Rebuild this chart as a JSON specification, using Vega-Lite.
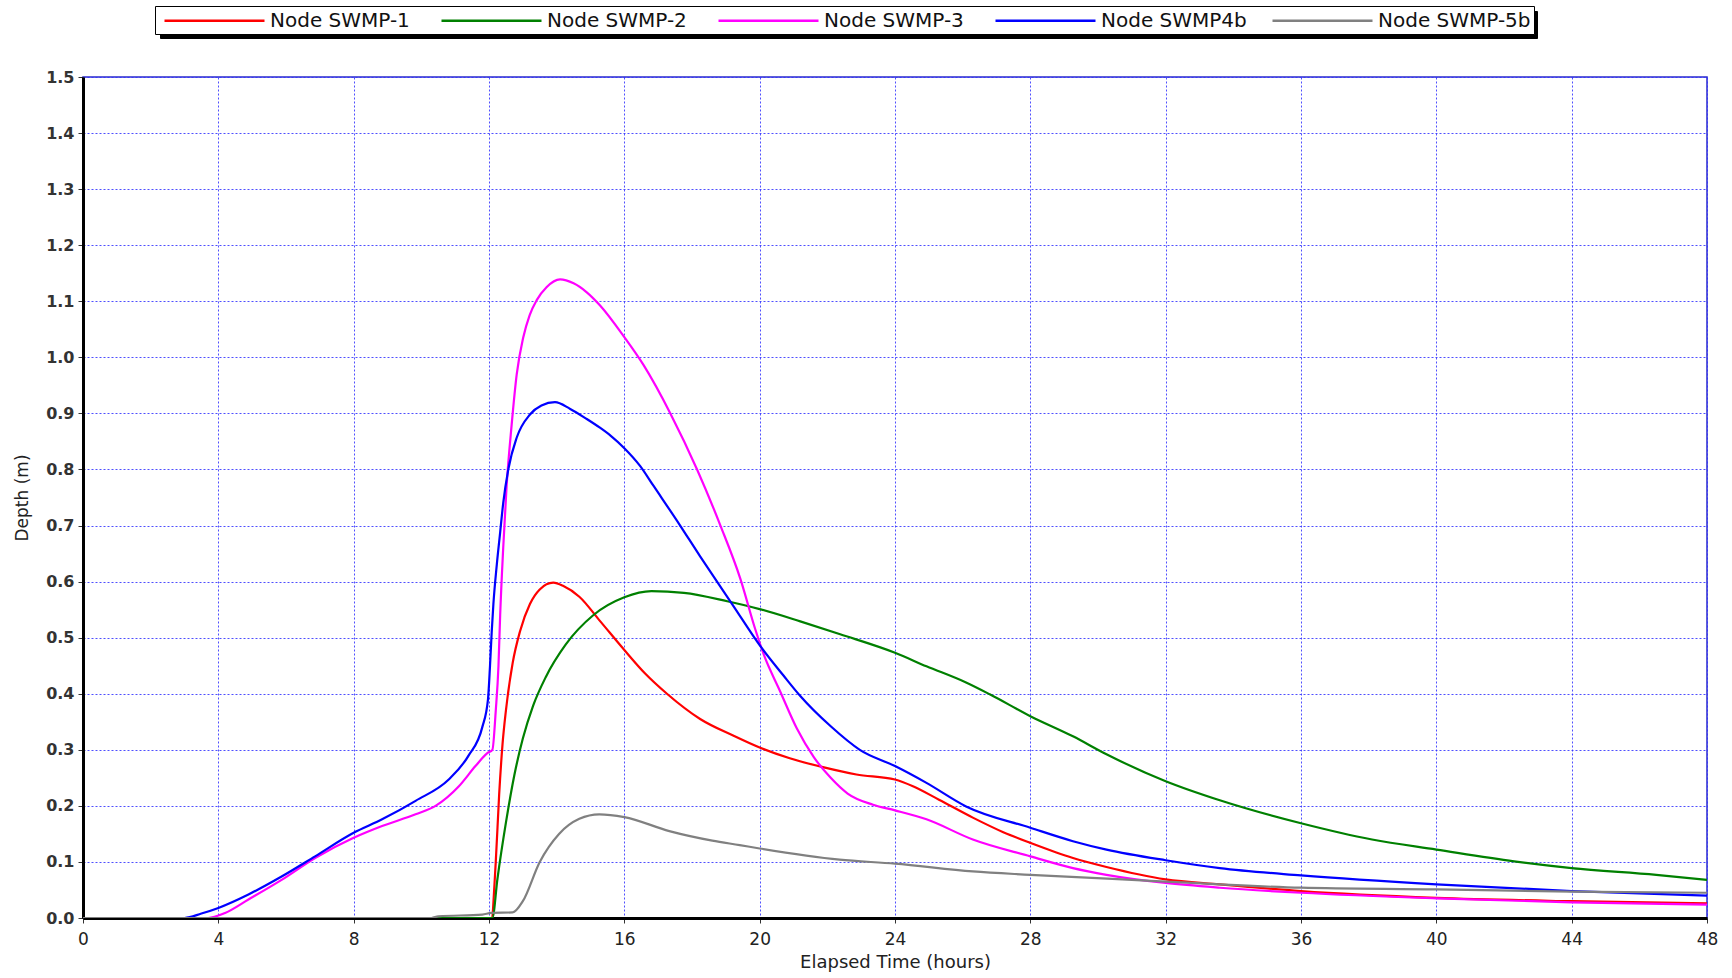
{
"$schema":"https://vega.github.io/schema/vega-lite/v6.json",
"width":1624,"height":841,
"autosize":{"type":"none"},
"padding":{"left":83,"top":77,"right":25,"bottom":60},
"background":"white",
"config":{"font":"DejaVu Sans","view":{"stroke":"#2a2acc","strokeWidth":1.5}},
"data":{"values":[
{"s":"Node SWMP-1","t":0,"d":0},{"s":"Node SWMP-1","t":12.07,"d":0},{"s":"Node SWMP-1","t":12.2,"d":0.1},{"s":"Node SWMP-1","t":12.3,"d":0.22},{"s":"Node SWMP-1","t":12.4,"d":0.31},{"s":"Node SWMP-1","t":12.5,"d":0.37},{"s":"Node SWMP-1","t":12.7,"d":0.455},{"s":"Node SWMP-1","t":12.92,"d":0.512},{"s":"Node SWMP-1","t":13.21,"d":0.56},{"s":"Node SWMP-1","t":13.5,"d":0.586},{"s":"Node SWMP-1","t":13.9,"d":0.598},{"s":"Node SWMP-1","t":14.2,"d":0.592},{"s":"Node SWMP-1","t":14.67,"d":0.573},{"s":"Node SWMP-1","t":15.29,"d":0.529},{"s":"Node SWMP-1","t":16,"d":0.478},{"s":"Node SWMP-1","t":16.6,"d":0.437},{"s":"Node SWMP-1","t":17.26,"d":0.4},{"s":"Node SWMP-1","t":18.24,"d":0.355},{"s":"Node SWMP-1","t":19.23,"d":0.325},{"s":"Node SWMP-1","t":20,"d":0.304},{"s":"Node SWMP-1","t":20.89,"d":0.285},{"s":"Node SWMP-1","t":21.87,"d":0.269},{"s":"Node SWMP-1","t":22.86,"d":0.256},{"s":"Node SWMP-1","t":24,"d":0.247},{"s":"Node SWMP-1","t":24.53,"d":0.235},{"s":"Node SWMP-1","t":25.3,"d":0.211},{"s":"Node SWMP-1","t":26.3,"d":0.179},{"s":"Node SWMP-1","t":27.2,"d":0.153},{"s":"Node SWMP-1","t":28,"d":0.134},{"s":"Node SWMP-1","t":29.26,"d":0.107},{"s":"Node SWMP-1","t":30.25,"d":0.091},{"s":"Node SWMP-1","t":32,"d":0.069},{"s":"Node SWMP-1","t":33.6,"d":0.06},{"s":"Node SWMP-1","t":36,"d":0.048},{"s":"Node SWMP-1","t":40,"d":0.036},{"s":"Node SWMP-1","t":44,"d":0.03},{"s":"Node SWMP-1","t":48,"d":0.026},
{"s":"Node SWMP-2","t":0,"d":0},{"s":"Node SWMP-2","t":12.1,"d":0},{"s":"Node SWMP-2","t":12.25,"d":0.07},{"s":"Node SWMP-2","t":12.5,"d":0.17},{"s":"Node SWMP-2","t":12.75,"d":0.255},{"s":"Node SWMP-2","t":13,"d":0.32},{"s":"Node SWMP-2","t":13.3,"d":0.378},{"s":"Node SWMP-2","t":13.68,"d":0.43},{"s":"Node SWMP-2","t":14.27,"d":0.488},{"s":"Node SWMP-2","t":15.08,"d":0.54},{"s":"Node SWMP-2","t":16,"d":0.572},{"s":"Node SWMP-2","t":16.8,"d":0.583},{"s":"Node SWMP-2","t":17.76,"d":0.58},{"s":"Node SWMP-2","t":19.04,"d":0.565},{"s":"Node SWMP-2","t":20,"d":0.551},{"s":"Node SWMP-2","t":21.2,"d":0.529},{"s":"Node SWMP-2","t":22.38,"d":0.506},{"s":"Node SWMP-2","t":24,"d":0.473},{"s":"Node SWMP-2","t":24.93,"d":0.449},{"s":"Node SWMP-2","t":26.1,"d":0.42},{"s":"Node SWMP-2","t":26.8,"d":0.399},{"s":"Node SWMP-2","t":28,"d":0.36},{"s":"Node SWMP-2","t":29.26,"d":0.324},{"s":"Node SWMP-2","t":30.25,"d":0.292},{"s":"Node SWMP-2","t":32,"d":0.244},{"s":"Node SWMP-2","t":33.6,"d":0.21},{"s":"Node SWMP-2","t":36,"d":0.169},{"s":"Node SWMP-2","t":38.1,"d":0.14},{"s":"Node SWMP-2","t":40,"d":0.122},{"s":"Node SWMP-2","t":42.3,"d":0.101},{"s":"Node SWMP-2","t":44,"d":0.089},{"s":"Node SWMP-2","t":46.5,"d":0.077},{"s":"Node SWMP-2","t":48,"d":0.068},
{"s":"Node SWMP-3","t":0,"d":0},{"s":"Node SWMP-3","t":3.7,"d":0},{"s":"Node SWMP-3","t":4.2,"d":0.009},{"s":"Node SWMP-3","t":4.89,"d":0.033},{"s":"Node SWMP-3","t":5.87,"d":0.068},{"s":"Node SWMP-3","t":6.86,"d":0.107},{"s":"Node SWMP-3","t":8,"d":0.143},{"s":"Node SWMP-3","t":8.84,"d":0.164},{"s":"Node SWMP-3","t":9.83,"d":0.185},{"s":"Node SWMP-3","t":10.42,"d":0.2},{"s":"Node SWMP-3","t":11.11,"d":0.235},{"s":"Node SWMP-3","t":11.6,"d":0.271},{"s":"Node SWMP-3","t":11.95,"d":0.294},{"s":"Node SWMP-3","t":12.1,"d":0.3},{"s":"Node SWMP-3","t":12.2,"d":0.37},{"s":"Node SWMP-3","t":12.28,"d":0.45},{"s":"Node SWMP-3","t":12.33,"d":0.54},{"s":"Node SWMP-3","t":12.42,"d":0.66},{"s":"Node SWMP-3","t":12.52,"d":0.77},{"s":"Node SWMP-3","t":12.67,"d":0.88},{"s":"Node SWMP-3","t":12.82,"d":0.97},{"s":"Node SWMP-3","t":13.01,"d":1.035},{"s":"Node SWMP-3","t":13.2,"d":1.075},{"s":"Node SWMP-3","t":13.41,"d":1.102},{"s":"Node SWMP-3","t":13.7,"d":1.125},{"s":"Node SWMP-3","t":14.1,"d":1.139},{"s":"Node SWMP-3","t":14.5,"d":1.132},{"s":"Node SWMP-3","t":14.89,"d":1.116},{"s":"Node SWMP-3","t":15.29,"d":1.092},{"s":"Node SWMP-3","t":16,"d":1.036},{"s":"Node SWMP-3","t":16.57,"d":0.986},{"s":"Node SWMP-3","t":17.36,"d":0.9},{"s":"Node SWMP-3","t":18.15,"d":0.8},{"s":"Node SWMP-3","t":18.84,"d":0.7},{"s":"Node SWMP-3","t":19.43,"d":0.605},{"s":"Node SWMP-3","t":19.87,"d":0.515},{"s":"Node SWMP-3","t":20.12,"d":0.47},{"s":"Node SWMP-3","t":20.6,"d":0.405},{"s":"Node SWMP-3","t":21.1,"d":0.338},{"s":"Node SWMP-3","t":21.6,"d":0.287},{"s":"Node SWMP-3","t":22.1,"d":0.25},{"s":"Node SWMP-3","t":22.6,"d":0.222},{"s":"Node SWMP-3","t":23.35,"d":0.202},{"s":"Node SWMP-3","t":24,"d":0.192},{"s":"Node SWMP-3","t":24.93,"d":0.176},{"s":"Node SWMP-3","t":26.3,"d":0.14},{"s":"Node SWMP-3","t":28,"d":0.11},{"s":"Node SWMP-3","t":29.26,"d":0.089},{"s":"Node SWMP-3","t":30.25,"d":0.077},{"s":"Node SWMP-3","t":32,"d":0.0625},{"s":"Node SWMP-3","t":33.6,"d":0.054},{"s":"Node SWMP-3","t":36,"d":0.045},{"s":"Node SWMP-3","t":40,"d":0.035},{"s":"Node SWMP-3","t":44,"d":0.028},{"s":"Node SWMP-3","t":48,"d":0.024},
{"s":"Node SWMP4b","t":0,"d":0},{"s":"Node SWMP4b","t":3,"d":0},{"s":"Node SWMP4b","t":3.5,"d":0.008},{"s":"Node SWMP4b","t":4,"d":0.018},{"s":"Node SWMP4b","t":4.89,"d":0.042},{"s":"Node SWMP4b","t":5.87,"d":0.074},{"s":"Node SWMP4b","t":6.86,"d":0.11},{"s":"Node SWMP4b","t":8,"d":0.152},{"s":"Node SWMP4b","t":8.84,"d":0.176},{"s":"Node SWMP4b","t":9.83,"d":0.209},{"s":"Node SWMP4b","t":10.81,"d":0.247},{"s":"Node SWMP4b","t":11.4,"d":0.29},{"s":"Node SWMP4b","t":11.8,"d":0.34},{"s":"Node SWMP4b","t":11.97,"d":0.39},{"s":"Node SWMP4b","t":12.03,"d":0.45},{"s":"Node SWMP4b","t":12.08,"d":0.51},{"s":"Node SWMP4b","t":12.13,"d":0.56},{"s":"Node SWMP4b","t":12.23,"d":0.63},{"s":"Node SWMP4b","t":12.33,"d":0.688},{"s":"Node SWMP4b","t":12.42,"d":0.74},{"s":"Node SWMP4b","t":12.57,"d":0.8},{"s":"Node SWMP4b","t":12.82,"d":0.857},{"s":"Node SWMP4b","t":13.21,"d":0.898},{"s":"Node SWMP4b","t":13.55,"d":0.914},{"s":"Node SWMP4b","t":13.95,"d":0.92},{"s":"Node SWMP4b","t":14.4,"d":0.908},{"s":"Node SWMP4b","t":14.89,"d":0.89},{"s":"Node SWMP4b","t":15.29,"d":0.874},{"s":"Node SWMP4b","t":15.6,"d":0.86},{"s":"Node SWMP4b","t":16,"d":0.838},{"s":"Node SWMP4b","t":16.47,"d":0.806},{"s":"Node SWMP4b","t":16.86,"d":0.771},{"s":"Node SWMP4b","t":17.65,"d":0.7},{"s":"Node SWMP4b","t":18.24,"d":0.645},{"s":"Node SWMP4b","t":18.74,"d":0.6},{"s":"Node SWMP4b","t":19.23,"d":0.556},{"s":"Node SWMP4b","t":20.02,"d":0.485},{"s":"Node SWMP4b","t":20.71,"d":0.432},{"s":"Node SWMP4b","t":21.2,"d":0.396},{"s":"Node SWMP4b","t":22.1,"d":0.342},{"s":"Node SWMP4b","t":22.96,"d":0.3},{"s":"Node SWMP4b","t":24,"d":0.271},{"s":"Node SWMP4b","t":24.93,"d":0.241},{"s":"Node SWMP4b","t":26.1,"d":0.199},{"s":"Node SWMP4b","t":28,"d":0.161},{"s":"Node SWMP4b","t":29.26,"d":0.137},{"s":"Node SWMP4b","t":30.25,"d":0.122},{"s":"Node SWMP4b","t":32,"d":0.103},{"s":"Node SWMP4b","t":33.6,"d":0.089},{"s":"Node SWMP4b","t":36,"d":0.076},{"s":"Node SWMP4b","t":40,"d":0.06},{"s":"Node SWMP4b","t":44,"d":0.048},{"s":"Node SWMP4b","t":48,"d":0.04},
{"s":"Node SWMP-5b","t":0,"d":0},{"s":"Node SWMP-5b","t":10.3,"d":0},{"s":"Node SWMP-5b","t":10.5,"d":0.003},{"s":"Node SWMP-5b","t":11.8,"d":0.006},{"s":"Node SWMP-5b","t":12.07,"d":0.009},{"s":"Node SWMP-5b","t":12.7,"d":0.01},{"s":"Node SWMP-5b","t":13,"d":0.03},{"s":"Node SWMP-5b","t":13.5,"d":0.1},{"s":"Node SWMP-5b","t":14.07,"d":0.15},{"s":"Node SWMP-5b","t":14.67,"d":0.177},{"s":"Node SWMP-5b","t":15.26,"d":0.185},{"s":"Node SWMP-5b","t":16,"d":0.18},{"s":"Node SWMP-5b","t":17.33,"d":0.155},{"s":"Node SWMP-5b","t":18.6,"d":0.138},{"s":"Node SWMP-5b","t":19.41,"d":0.13},{"s":"Node SWMP-5b","t":20,"d":0.124},{"s":"Node SWMP-5b","t":22.36,"d":0.104},{"s":"Node SWMP-5b","t":24,"d":0.097},{"s":"Node SWMP-5b","t":26.3,"d":0.083},{"s":"Node SWMP-5b","t":28,"d":0.077},{"s":"Node SWMP-5b","t":32,"d":0.065},{"s":"Node SWMP-5b","t":33.6,"d":0.06},{"s":"Node SWMP-5b","t":36,"d":0.054},{"s":"Node SWMP-5b","t":40,"d":0.051},{"s":"Node SWMP-5b","t":44,"d":0.047},{"s":"Node SWMP-5b","t":48,"d":0.045}
]},
"encoding":{
"x":{"field":"t","type":"quantitative","scale":{"domain":[0,48],"nice":false,"zero":false},
 "axis":{"title":"Elapsed Time (hours)","values":[0,4,8,12,16,20,24,28,32,36,40,44,48],"format":"d",
  "grid":true,"gridColor":"#3030ff","gridDash":[2,2],"gridWidth":1,"gridOpacity":0.85,
  "domainColor":"black","domainWidth":3,"tickColor":"#333","tickSize":5,"tickWidth":1,
  "labelFontSize":17,"labelColor":"#222","labelPadding":8,"labelFlush":false,
  "titleFontSize":18,"titleFontWeight":"normal","titleColor":"#222","titlePadding":6}},
"y":{"field":"d","type":"quantitative","scale":{"domain":[0,1.5],"nice":false},
 "axis":{"title":"Depth (m)","values":[0,0.1,0.2,0.3,0.4,0.5,0.6,0.7,0.8,0.9,1.0,1.1,1.2,1.3,1.4,1.5],"format":".1f",
  "grid":true,"gridColor":"#3030ff","gridDash":[2,2],"gridWidth":1,"gridOpacity":0.85,
  "domainColor":"black","domainWidth":3,"tickColor":"#333","tickSize":5,"tickWidth":1,
  "labelFontSize":16,"labelFontWeight":"bold","labelColor":"#333","labelPadding":4,"labelFlush":false,
  "titleFontSize":17,"titleFontWeight":"normal","titleColor":"#222","titlePadding":14}}
},
"layer":[
{"mark":{"type":"point","opacity":0,"filled":false},
 "encoding":{"shape":{"field":"s","type":"nominal",
  "scale":{"domain":["Node SWMP-5b","Node SWMP4b","Node SWMP-3","Node SWMP-2","Node SWMP-1"],
   "range":["M-13.3,0L13.3,0","M-13.3,0L13.3,0","M-13.3,0L13.3,0","M-13.3,0L13.3,0","M-13.3,0L13.3,0"]},
  "legend":{"title":null,"orient":"none","legendX":77,"legendY":-66,"direction":"horizontal","columns":5,"gridAlign":"all","zindex":0,
   "symbolSize":400,"symbolOpacity":0,"symbolStrokeWidth":1,"symbolOffset":123,"labelFontSize":20,"labelExpr":"''","labelOffset":-143,
   "columnPadding":9,"padding":3,"strokeColor":"black","fillColor":"black"}}}},
{"mark":{"type":"line","strokeWidth":2.2,"clip":true,"interpolate":"monotone"},
 "encoding":{"color":{"field":"s","type":"nominal",
  "scale":{"domain":["Node SWMP-1","Node SWMP-2","Node SWMP-3","Node SWMP4b","Node SWMP-5b"],"range":["#ff0000","#008000","#ff00ff","#0000ff","#808080"]},
  "legend":{"title":null,"orient":"none","legendX":72,"legendY":-71,"direction":"horizontal","columns":5,"gridAlign":"all","zindex":1,
   "symbolType":"M-5,0L5,0","symbolSize":400,"symbolStrokeWidth":2.5,"symbolOffset":45,"labelFontSize":20,"labelColor":"#111","labelOffset":44,
   "columnPadding":12,"padding":3,"strokeColor":"black","fillColor":"white"}}}}
]
}
